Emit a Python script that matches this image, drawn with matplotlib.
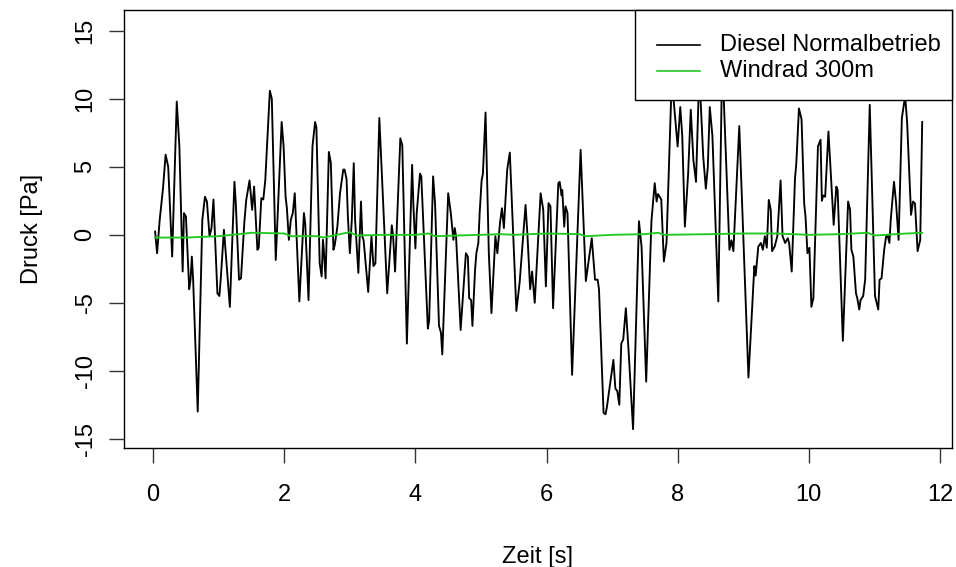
import matplotlib
matplotlib.use("Agg")
import matplotlib.pyplot as plt
from matplotlib.lines import Line2D
from matplotlib.patches import Rectangle

plt.rcParams['font.family'] = ['Liberation Sans', 'DejaVu Sans']

# Diesel Normalbetrieb (time [s], pressure [Pa])
diesel_t = [0.03, 0.06, 0.10, 0.15, 0.19, 0.23, 0.29, 0.36, 0.40, 0.45, 0.47, 0.50, 0.55, 0.57, 0.59, 0.61,
            0.68, 0.75, 0.79, 0.82, 0.86, 0.89, 0.92, 0.98, 1.01, 1.03, 1.08, 1.17, 1.24, 1.26, 1.31, 1.34,
            1.39, 1.42, 1.47, 1.51, 1.54, 1.59, 1.61, 1.65, 1.68, 1.71, 1.78, 1.81, 1.87, 1.96, 1.99, 2.02,
            2.04, 2.07, 2.10, 2.13, 2.16, 2.23, 2.30, 2.32, 2.37, 2.43, 2.47, 2.49, 2.54, 2.57, 2.59, 2.60,
            2.63, 2.68, 2.71, 2.75, 2.77, 2.81, 2.85, 2.90, 2.92, 2.95, 2.97, 3.00, 3.03, 3.06, 3.08, 3.13,
            3.17, 3.19, 3.21, 3.28, 3.33, 3.36, 3.39, 3.45, 3.57, 3.64, 3.66, 3.69, 3.77, 3.80, 3.87, 3.95,
            3.97, 4.00, 4.02, 4.07, 4.09, 4.19, 4.21, 4.27, 4.30, 4.36, 4.39, 4.41, 4.50, 4.54, 4.58, 4.60,
            4.62, 4.69, 4.77, 4.80, 4.82, 4.85, 4.87, 4.91, 4.93, 4.96, 4.98, 5.01, 5.03, 5.07, 5.12, 5.16,
            5.22, 5.25, 5.29, 5.32, 5.35, 5.40, 5.44, 5.54, 5.59, 5.68, 5.71, 5.75, 5.78, 5.82, 5.91, 5.95,
            5.99, 6.03, 6.06, 6.10, 6.18, 6.20, 6.23, 6.24, 6.27, 6.29, 6.32, 6.39, 6.52, 6.60, 6.69, 6.74,
            6.78, 6.80, 6.87, 6.90, 6.92, 7.02, 7.05, 7.08, 7.11, 7.14, 7.17, 7.21, 7.25, 7.32, 7.41, 7.45,
            7.52, 7.60, 7.65, 7.68, 7.70, 7.75, 7.79, 7.83, 7.91, 8.00, 8.04, 8.07, 8.11, 8.16, 8.20, 8.24,
            8.28, 8.33, 8.39, 8.43, 8.46, 8.49, 8.53, 8.62, 8.68, 8.79, 8.82, 8.85, 8.94, 9.08, 9.17, 9.19,
            9.23, 9.27, 9.30, 9.33, 9.36, 9.39, 9.42, 9.44, 9.48, 9.52, 9.57, 9.60, 9.64, 9.68, 9.70, 9.74,
            9.79, 9.81, 9.85, 9.89, 9.93, 9.95, 9.98, 10.01, 10.04, 10.07, 10.14, 10.18, 10.20, 10.22, 10.25,
            10.30, 10.38, 10.42, 10.44, 10.52, 10.60, 10.63, 10.65, 10.68, 10.72, 10.74, 10.77, 10.79, 10.83,
            10.86, 10.93, 11.01, 11.06, 11.08, 11.11, 11.15, 11.18, 11.20, 11.23, 11.25, 11.30, 11.33, 11.37,
            11.42, 11.47, 11.50, 11.56, 11.59, 11.62, 11.66, 11.70, 11.73]
diesel_p = [0.24, -1.35, 1.1, 3.4, 5.9, 5.0, -1.6, 9.8, 6.5, -2.7, 1.6, 1.35, -4.0, -3.3, -1.6, -3.3,
            -13.0, 1.1, 2.8, 2.45, -0.1, 0.5, 2.6, -4.3, -4.5, -3.3, 0.37, -5.3, 3.9, 2.4, -3.3, -3.2,
            0.86, 2.57, 4.0, 1.84, 3.55, -1.1, -0.95, 2.7, 2.6, 4.0, 10.6, 10.0, -1.85, 8.3, 6.5, 2.8,
            1.96, -0.37, 1.1, 1.6, 3.06, -4.9, 1.6, 0.8, -4.8, 6.5, 8.3, 7.9, -2.1, -3.06, -0.37, -0.9,
            -3.2, 6.1, 5.3, -1.1, -0.75, 0.6, 3.06, 4.8, 4.8, 4.1, 1.35, -1.35, 1.1, 5.27, 1.1, -2.8,
            2.45, -0.1, -0.4, -4.2, -0.1, -2.3, -2.1, 8.6, -4.3, 0.7, -0.1, -2.7, 7.1, 6.6, -8.0, 5.15,
            2.1, -1.0, 1.6, 4.5, 4.3, -6.9, -6.3, 4.3, 2.3, -6.7, -7.2, -8.8, 3.06, 1.6, -0.37, 0.5,
            -0.1, -7.0, -1.35, -1.6, -4.66, -4.8, -6.7, -2.57, -1.35, -0.6, 1.6, 4.0, 4.5, 9.0, -1.35, -5.76,
            -0.1, -1.35, 0.86, 1.96, 0.5, 4.78, 6.05, -5.6, -3.5, 2.2, -0.1, -4.0, -2.7, -5.0, 3.06, 1.84,
            -3.8, 2.33, 2.1, -5.4, 3.8, 3.9, 2.9, 3.3, 0.6, 2.1, 1.6, -10.3, 6.25, -3.4, -0.25, -3.3,
            -3.3, -4.0, -13.1, -13.2, -12.7, -9.2, -11.3, -11.5, -12.5, -8.0, -7.7, -5.4, -8.4, -14.3, 1.0, -0.9,
            -10.8, 1.0, 3.8, 2.45, 3.0, 2.6, -1.96, -0.6, 11.5, 6.5, 9.4, 7.3, 0.6, 4.5, 9.2, 5.5,
            3.9, 12.0, 5.75, 3.4, 5.0, 9.4, 7.3, -4.9, 13.0, -1.1, -0.4, -1.2, 8.0, -10.5, -2.3, -3.0,
            -0.86, -0.6, -1.1, -0.1, -0.95, 2.57, 1.84, -1.2, -0.86, -0.1, 4.0, -0.1, -0.6, -0.25, -0.6, -2.7,
            4.17, 5.27, 9.3, 8.5, 2.3, 1.35, -1.35, -0.95, -5.3, -4.66, 6.5, 7.0, 2.5, 2.9, 2.8,
            7.6, 0.74, 3.55, 3.3, -7.8, 2.45, 1.84, -1.1, -1.6, -4.3, -4.66, -5.5, -4.8, -4.5,
            -3.3, 9.56, -4.5, -5.5, -3.3, -3.2, -1.1, -0.1, 0.0, -0.6, 1.1, 3.9, 2.45, -0.37,
            8.6, 10.2, 8.3, 1.47, 2.45, 2.3, -1.2, -0.37, 8.3]

# Windrad 300m
wind_t = [0.03, 0.5, 1.0, 1.5, 2.0, 2.1, 2.5, 2.6, 3.0, 3.1, 3.5, 4.0, 4.2, 4.3, 5.0, 5.3, 5.5,
          6.0, 6.5, 6.6, 7.0, 7.5, 7.7, 7.8, 8.5, 9.0, 9.5, 10.0, 10.5, 10.9, 11.0, 11.5, 11.73]
wind_p = [-0.2, -0.2, -0.1, 0.15, 0.1, -0.1, -0.1, -0.2, 0.2, -0.05, 0.0, 0.0, 0.1, -0.1, 0.0, 0.05, 0.0,
          0.1, 0.05, -0.1, 0.0, 0.05, 0.15, 0.0, 0.05, 0.1, 0.1, 0.0, 0.05, 0.15, -0.05, 0.1, 0.15]

x_ticks = [0, 2, 4, 6, 8, 10, 12]
y_ticks = [-15, -10, -5, 0, 5, 10, 15]
series_names = ["Diesel Normalbetrieb", "Windrad 300m"]
x_label = "Zeit [s]"
y_label = "Druck [Pa]"

W, H = 956, 567
fig = plt.figure(figsize=(W / 100, H / 100), dpi=100)
L, R, T, B = 124.3, 951.7, 10, 447.7
ax = fig.add_axes([L / W, 1 - B / H, (R - L) / W, (B - T) / H])

black = "#000000"
green = "#22c822"
ax.plot(diesel_t, diesel_p, color=black, lw=1.35, zorder=3)
ax.plot(wind_t, wind_p, color=green, lw=1.35, zorder=4)

ax.set_xlim(-0.44, 12.18)
ax.set_ylim(-15.66, 16.54)
ax.set_xticks(x_ticks)
ax.set_yticks(y_ticks)
ax.set_xticklabels([str(v) for v in x_ticks])
ax.set_yticklabels([str(v) for v in y_ticks], rotation=90, va='center')
fs = 17
ax.tick_params(axis='both', direction='out', length=11, width=1.0, labelsize=fs, color='#333333')
ax.tick_params(axis='x', pad=15)
ax.tick_params(axis='y', pad=9)
for s in ax.spines.values():
    s.set_linewidth(1.0)
    s.set_color('black')

fig.text(538 / W, 1 - 557 / H, x_label, ha='center', va='center', fontsize=fs)
fig.text(32 / W, 1 - 229 / H, y_label, ha='center', va='center', rotation=90, fontsize=fs)

# legend (R style box)
lx0, lx1, ly0, ly1 = 635, R, T, 100
fig.add_artist(Rectangle((lx0 / W, 1 - ly1 / H), (lx1 - lx0) / W, (ly1 - ly0) / H,
                         transform=fig.transFigure, facecolor='white', edgecolor='black',
                         lw=1.0, zorder=10))
for name, col, yy in [(series_names[0], black, 45), (series_names[1], green, 71)]:
    fig.add_artist(Line2D([657 / W, 700 / W], [1 - yy / H, 1 - yy / H], transform=fig.transFigure,
                          color=col, lw=1.2, zorder=11))
    fig.text(720 / W, 1 - yy / H, name, ha='left', va='center', fontsize=fs, zorder=11)

fig.savefig("out.png", dpi=100)
